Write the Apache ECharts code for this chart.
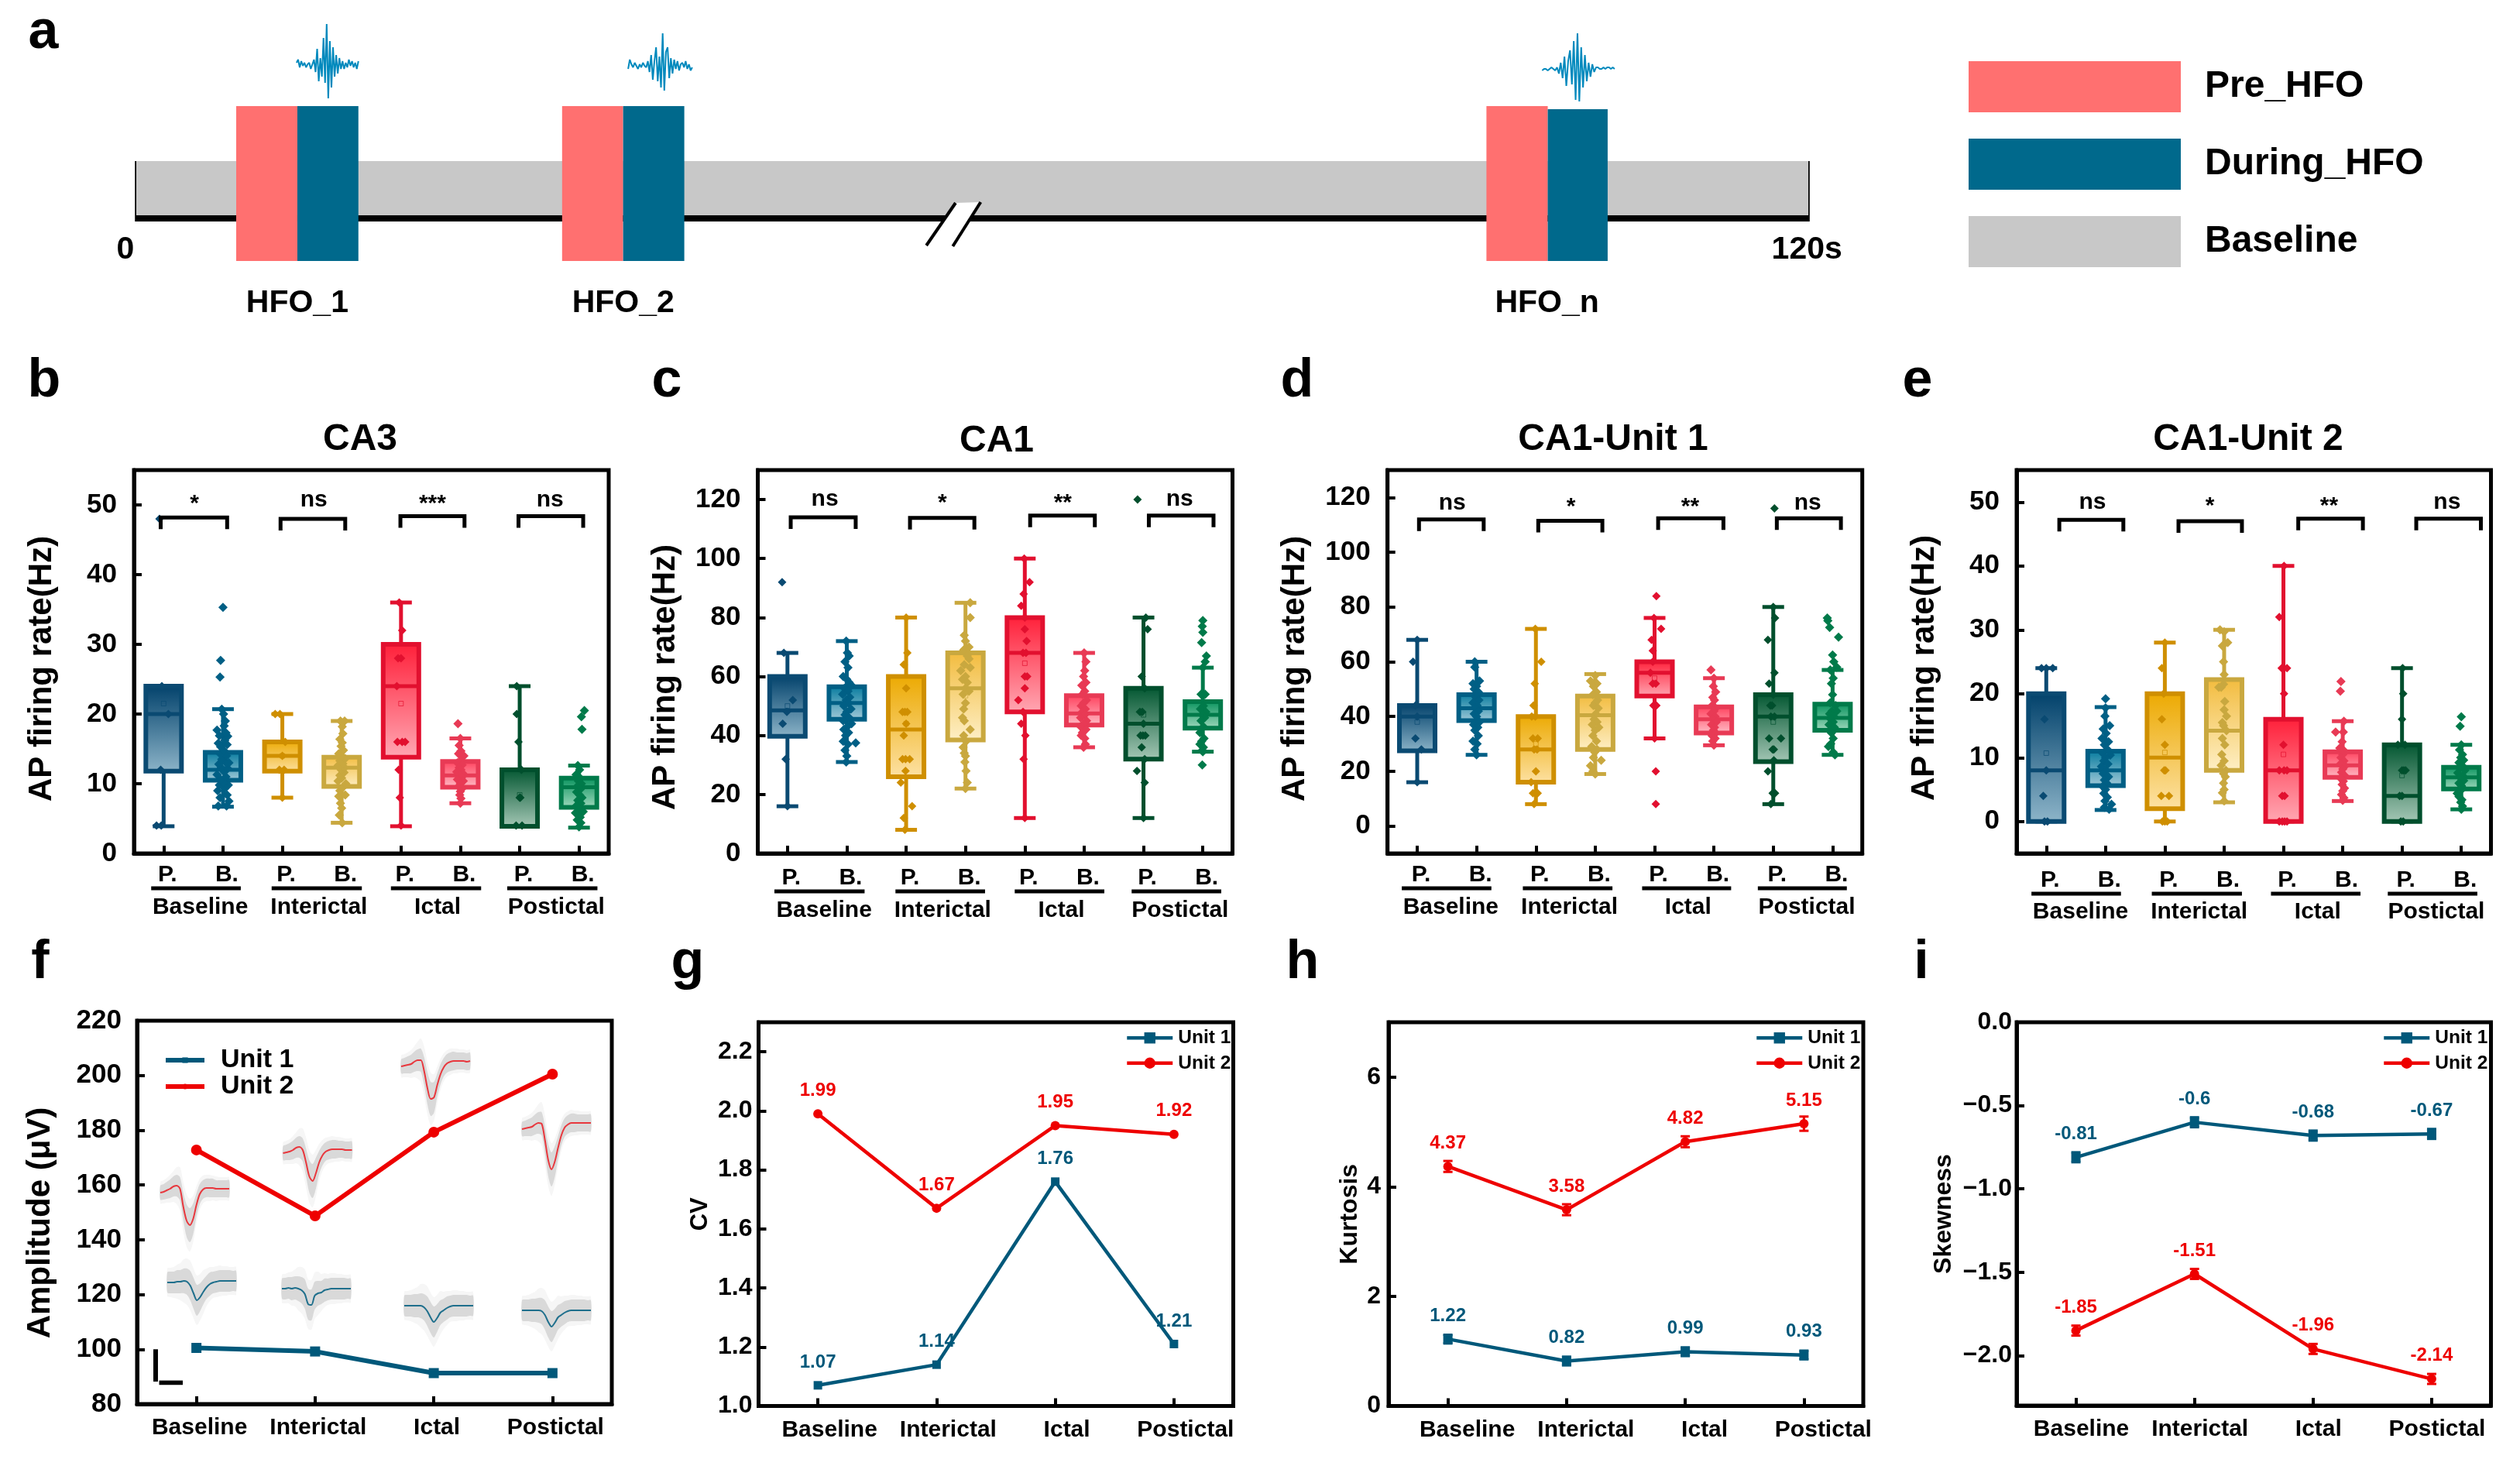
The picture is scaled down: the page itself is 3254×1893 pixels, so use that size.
<!DOCTYPE html>
<html><head><meta charset="utf-8">
<style>html,body{margin:0;padding:0;background:#fff}#c{width:3254px;height:1893px}</style>
<script src="https://cdn.jsdelivr.net/npm/echarts@6/dist/echarts.min.js"></script>
</head><body><div id="c"></div>
<script>
const FONT='"Liberation Sans", Arial, Helvetica, sans-serif';
// ---------- shared labels ----------
const phaseTicks=['P.','B.','P.','B.','P.','B.','P.','B.'];
const stateLabels=['Baseline','Interictal','Ictal','Postictal'];
const boxLine=['#0a4a72','#005f85','#cf8f00','#c9a83f','#e2102f','#e83a55','#004f2d','#007a4a'];
const boxTop=['#00406a','#00789c','#eca900','#f2bb3c','#ff1e38','#ff3b58','#00552f','#008f58'];
const boxBottom=['#8fb6ca','#a9cddb','#fde2a6','#fef0c8','#ffaab5','#ffc2cb','#a8c9b8','#a8dcc2'];
// ---------- panel a ----------
const hfoNames=['HFO_1','HFO_2','HFO_n'];
const hfoPreStart=[7.17,30.56,96.9];
const hfoSplit=[11.56,34.94,101.3];
const hfoEnd=[15.94,39.33,105.6];
const hfoTop=[100,100,98];
const burst1=[1,3,-2,2,-1,1,-2,0,1,-3,0,3,-5,10,-11,4,-8,17,-12,26,-22,15,-15,11,-8,6,-6,4,-3,2,-3,1,-2,3,-1,2,-2,1,-3,2];
const burst2=[-2,4,1,-1,2,0,-2,1,-1,2,0,-1,3,-4,7,-9,3,12,-10,6,-14,21,-16,9,12,-8,5,-5,4,-2,3,-3,1,2,-1,3,-2,1,-3,-1];
const burstN=[-1,0,0,-1,0,1,0,-1,1,-3,4,-6,8,-11,5,12,-10,18,-20,23,-21,14,-12,9,-8,4,-5,3,-2,1,1,0,0,1,0,1,1,0,1,0];
// ---------- CA3 ----------
const ca3Stats=[[3.9,11.8,20,24,24,21.5],[6.7,10.5,12,14.5,20.7,12.7],[8,11.8,14,16,20,14],[4.4,9.6,12.3,13.8,19,12],[3.9,13.8,24,30,36,21.5],[7.2,9.5,11.2,13.2,16.5,11.6],[3.9,3.9,3.9,12,24,8.4],[3.7,6.6,9.5,10.8,12.6,9]];
const ca3Points=[
[[-7,48],[-3,24],[8,20],[-5,12],[-12,4],[-4,4]],
[[-8,6.8],[6,6.8],[10,7.5],[-5,8],[7,8.4],[-9,9],[3,9.3],[-6,9.8],[9,9.8],[1,10.2],[-4,10.6],[5,11],[-10,11.3],[2,11.7],[8,12.2],[-3,12.3],[-7,12.8],[4,13.1],[10,13],[-2,13.5],[6,14],[-5,14.3],[1,14.8],[-4,15.3],[7,15.6],[-8,15.8],[3,16.2],[8,16.8],[-6,16.9],[5,17.3],[-10,17.7],[2,18.3],[4,19],[1,20],[-2,20.7],[0,35.3],[-4,27.7],[-5,25.3]],
[[-12,20],[-4,20],[5,16],[0,14],[-5,12],[3,12],[0,8]],
[[1,4.4],[-4,5.5],[0,6.5],[-2,7.2],[-5,8.2],[6,8.4],[-3,9],[1,9.4],[7,10],[-6,10.4],[0,10.8],[-3,11.2],[4,11.6],[-1,12],[5,12.3],[-6,12.6],[2,12.9],[-3,13.3],[6,13.6],[0,14],[-5,14.3],[3,14.8],[-1,15.4],[1,15.9],[-3,16.4],[2,17.2],[1,18.2],[-2,19],[5,19]],
[[-3,36],[2,32],[-5,28],[0,28],[-7,24],[-6,16],[2,16],[7,16],[-4,12],[-2,8],[0,4]],
[[-4,18.6],[0,16.5],[-2,15.5],[1,14.7],[-3,14.3],[6,14],[0,13.3],[-5,13],[3,12.7],[-2,12.3],[1,12],[-6,11.7],[4,11.5],[-1,11.2],[2,10.9],[-5,10.6],[5,10.4],[0,10],[-3,9.6],[3,9.3],[0,8.9],[-1,8.4],[1,7.9],[0,7.2]],
[[-5,24],[-5,20],[-2,16],[3,12],[1,8],[0,8],[-6,4],[4,4]],
[[9,20.5],[4,19.6],[5,17.8],[-2,12.6],[1,12],[-5,11.3],[2,10.8],[-1,10.4],[4,10],[-3,9.6],[2,9.2],[-4,8.8],[1,8.4],[5,8],[-2,7.6],[3,7.2],[-5,6.8],[0,6.4],[7,6],[-6,5.8],[2,5.2],[-3,4.8],[3,4.4],[0,3.8]]
];
const ca3Sig=['*','ns','***','ns'];
// ---------- CA1 ----------
const ca1Stats=[[16,39.7,48.5,60,68,50],[31,45.5,51,56.5,72,51.5],[8,26,42,60,80,44],[22,38.5,56,68,85,53.5],[12,48,68,80,100,64.5],[36,43.5,47.5,53.5,68,48],[12,32,44,56,80,47],[34.5,42.5,47,51.5,63,47]];
const ca1Points=[
[[-9,92],[-6,68],[9,52],[-1,48],[-8,44],[-3,32],[0,16]],
[[-1,72],[1,68],[4,67],[-3,65],[2,63],[-6,60],[0,59],[4,58],[8,57],[-4,56],[2,55],[-7,54],[5,53],[-1,52],[3,51],[-5,50],[7,49],[0,48],[-3,47],[4,46],[-6,45],[8,44],[1,43],[-5,42],[3,41],[-2,40],[-6,38],[2,37],[15,37.5],[-3,35],[0,33],[-1,31]],
[[0,80],[2,68],[-4,64],[0,56],[-6,48],[-2,48],[2,48],[0,44],[-4,40],[-6,32],[-1,32],[6,32],[-1,28],[-9,24],[10,16],[-4,12],[-2,8]],
[[8,85],[8,80],[-2,74],[0,72],[6,70],[-3,69],[3,67],[6,66],[-2,64],[8,63],[-8,62],[0,60],[-5,59],[3,58],[0,56],[6,55],[-4,54],[0,51],[-3,49],[-5,46],[-2,45],[8,42],[-3,40],[1,38],[-4,36],[-2,34],[0,33],[-1,31],[1,28],[3,24],[0,22]],
[[-1,100],[8,92],[-2,88],[-6,84],[0,80],[0,76],[3,72],[-3,68],[2,68],[0,60],[4,60],[0,56],[-11,52],[-3,48],[-6,44],[1,40],[-2,32],[0,12]],
[[0,68],[3,65],[1,62],[-1,60],[3,58],[-4,57],[1,55],[-3,54],[4,52],[-1,51],[-5,50],[2,49],[-3,48],[1,47],[-6,46],[4,45],[-1,44],[-6,43],[3,42],[-3,41],[-5,40],[1,39],[2,37],[-1,36]],
[[-10,120],[4,80],[7,76],[-3,60],[2,56],[-6,48],[-2,48],[0,44],[-5,40],[-1,40],[3,40],[-3,36],[2,32],[-11,28],[2,24],[0,12]],
[[0,79],[-1,77],[0,75],[-2,71.5],[6,67],[4,65],[0,63],[-3,54],[4,54],[1,50],[-4,49],[5,48],[-1,47],[3,46],[-3,45],[1,43],[-5,41],[2,39],[-2,38],[-5,37],[1,36],[-1,35],[0,34.5],[-1,30]]
];
const ca1Sig=['ns','*','**','ns'];
// ---------- CA1-Unit 1 ----------
const unit1Stats=[[16,27.5,40,44,68,38],[26,38.5,43,48,60,43],[8,16,28,40,72,30],[19,28,40.5,47.5,55.5,38],[32,47.5,56,60,76,54],[29.5,34,39,43.5,54,39],[8,23.5,40,48,80,38],[26,35,39.5,44.5,57,40]];
const unit1Points=[
[[0,68],[-7,60],[-3,44],[0,40],[-3,32],[7,28],[0,16]],
[[-3,60],[-3,58],[5,53],[-6,52],[0,51],[-4,50],[3,49],[-1,47],[4,46],[-6,45],[1,44],[-2,43],[3,42],[-4,41],[0,40],[5,38],[-5,37],[2,36],[-3,35],[3,33],[-6,31],[1,30],[-3,28],[0,26]],
[[-1,72],[9,60],[-2,52],[-4,44],[-7,40],[-1,40],[-5,32],[3,32],[-3,28],[2,28],[0,20],[-8,16],[-5,12],[3,12],[-3,8]],
[[-8,53],[0,55],[3,52],[-3,51],[2,49],[-4,48],[4,46],[0,45],[-3,44],[5,43],[1,41],[-2,39],[3,38],[-5,37],[6,36],[0,35],[-4,33],[2,31],[-6,29],[3,28],[-1,27],[-3,25],[10,24],[-8,22],[-4,20],[0,19]],
[[3,84],[-1,76],[11,72],[-5,68],[-3,64],[-3,60],[-7,56],[-3,52],[2,52],[-2,44],[3,44],[0,32],[2,20],[2,8]],
[[-5,57],[0,54],[-1,51],[3,49],[-2,47],[1,46],[-3,44],[3,43],[0,42],[-5,41],[2,40],[-2,39],[4,38],[-4,37],[1,36],[-1,35],[3,34],[-3,33],[2,32],[-2,31],[0,29.5]],
[[2,116],[0,80],[3,76],[-9,68],[2,56],[-7,52],[0,48],[-5,44],[-2,44],[-4,40],[2,40],[-7,32],[13,32],[-1,28],[1,28],[1,24],[-9,20],[-1,12],[3,12],[-4,8]],
[[-9,76],[-8,75],[-5,72.5],[10,69],[0,62.5],[2,60],[7,58],[-4,57],[1,54],[-2,52],[0,48],[-4,45],[5,44],[-1,42],[7,42],[-5,41],[2,40],[-3,39],[1,38],[-6,37],[3,36],[-2,34],[1,32],[-3,30],[-7,29],[1,27],[4,26]]
];
const unit1Sig=['ns','*','**','ns'];
// ---------- CA1-Unit 2 ----------
const unit2Stats=[[0,0,8,20,24,10.7],[1.8,5.6,8,11,17.9,8.5],[0,2,10,20,28,10.8],[3,8,14.2,22.2,30,15],[0,0,8,16,40,10.5],[3.2,6.9,8.8,10.9,15.7,9],[0,0,4,12,24,7.2],[1.9,5.1,6.9,8.5,12,7]];
const unit2Points=[
[[-8,24],[0,24],[11,24],[-3,16],[0,8],[-5,4],[-3,0],[2,0]],
[[0,19.2],[0,17.8],[-1,16.5],[7,15],[-4,14.5],[1,13.8],[-6,13],[5,12.5],[-2,12],[3,11.3],[-5,10.7],[8,10.4],[0,10],[-3,9.5],[4,9],[-7,8.6],[1,8],[-4,7.5],[5,7],[-2,6.5],[2,6],[-5,5.5],[0,5],[-3,4.4],[3,3.8],[-1,3.2],[10,2.7],[-2,2.2],[6,1.9]],
[[0,28],[-5,24],[-2,20],[-5,16],[0,12],[-1,8],[1,8],[-6,4],[7,4],[-4,0],[0,0],[4,0]],
[[-7,30],[0,29.7],[6,28],[-3,27.5],[-1,25],[0,23],[-1,21.5],[-9,21],[-5,21],[1,18.8],[0,17.5],[4,16.5],[-3,15.5],[-1,15],[4,14.2],[-3,13],[1,12],[-4,10.5],[0,9.5],[-5,8.8],[3,8],[-1,7.5],[2,7],[-1,6],[0,5],[-3,4.5],[0,3.2]],
[[1,40],[-7,32],[-3,24],[6,24],[1,20],[0,12],[-7,8],[1,8],[6,8],[-2,4],[2,4],[-7,0],[-2,0],[2,0],[6,0]],
[[-3,21.9],[-4,20.4],[-12,14],[2,15.7],[1,14],[-1,12.5],[-5,11.5],[3,11],[0,10.5],[-3,10],[2,9.5],[-4,9],[4,8.7],[0,8.2],[-2,7.7],[3,7.2],[-4,6.8],[1,6.3],[-1,5.8],[3,5.2],[0,4.8],[-2,4.2],[2,3.7],[0,3.3]],
[[1,24],[2,20],[0,16],[-7,12],[5,12],[0,8],[3,8],[6,8],[-4,4],[0,4],[-2,0],[2,0]],
[[0,16.4],[-2,14.9],[0,12],[-3,11.2],[2,10.5],[-1,10],[4,9.6],[-4,9.2],[1,8.8],[-2,8.4],[6,8],[-6,7.6],[2,7.2],[-1,6.8],[4,6.4],[-4,6],[0,5.6],[3,5.2],[-7,4.4],[-4,3.9],[1,3.4],[-1,3],[2,2.4],[0,1.9]]
];
const unit2Sig=['ns','*','**','ns'];
// ---------- line panels ----------
const ampUnit1=[100.5,99.2,91.3,91.3];
const ampUnit2=[172.8,148.7,179.3,200.5];
const cvUnit1=[1.07,1.14,1.76,1.21];
const cvUnit2=[1.99,1.67,1.95,1.92];
const kurtUnit1=[1.22,0.82,0.99,0.93];
const kurtUnit2=[4.37,3.58,4.82,5.15];
const kurtErr1=[0.08,0.08,0.08,0.08];
const kurtErr2=[0.1,0.1,0.1,0.13];
const skewUnit1=[-0.81,-0.6,-0.68,-0.67];
const skewUnit2=[-1.85,-1.51,-1.96,-2.14];
const skewErr1=[0.03,0.03,0.03,0.03];
const skewErr2=[0.03,0.03,0.03,0.03];
// mean spike traces (uV relative to trace start) shown as insets of panel f
const traceU2Base=[0,1,3,5,8,9,5,-18,-36,-42,-34,-16,-2,4,6,6,6,5,5,5,5,5];
const traceU2Inter=[0,1,2,4,7,8,4,-12,-30,-36,-26,-12,-3,2,4,5,5,5,5,4,4,4];
const traceU2Ictal=[0,1,2,3,6,8,8,-6,-28,-42,-40,-24,-10,-1,4,6,7,7,7,7,6,7];
const traceU2Post=[0,1,2,3,6,8,7,-14,-40,-52,-42,-24,-8,2,6,8,8,8,8,8,8,8];
const traceU1Base=[0,0,0,1,1,2,1,-4,-14,-23,-19,-12,-6,-2,0,1,2,2,2,2,2,2];
const traceU1Inter=[0,0,1,0,1,0,-2,-7,-20,-21,-9,-6,-5,-2,-1,0,0,0,0,0,0,0];
const traceU1Ictal=[0,0,0,0,0,0,-2,-7,-15,-21,-16,-9,-6,-3,-1,0,0,0,0,0,0,0];
const traceU1Post=[0,0,0,0,0,0,-1,-6,-15,-21,-16,-9,-6,-3,-1,0,0,0,0,0,0,0];
const bandU2Inner=[9,10,11,12,13,14,15,18,21,22,20,15,13,12,12,12,12,11,11,11,11,11];
const bandU2Outer=[14,15,16,18,20,24,28,32,34,34,30,24,20,18,17,17,16,16,15,15,15,15];
const bandU1Inner=[13,14,14,15,15,16,17,19,20,20,18,16,15,15,14,14,14,14,14,14,13,13];
const bandU1Outer=[18,19,20,22,24,28,30,32,32,32,30,28,24,22,20,20,20,19,19,18,18,18];

const chart=echarts.init(document.getElementById('c'));
const option={animation:false,backgroundColor:'#fff',tooltip:{show:false},title:[],legend:[],grid:[],xAxis:[],yAxis:[],series:[]};
const boldText=(size,color)=>({fontFamily:FONT,fontWeight:'bold',fontSize:size,color:color||'#000'});
function addTitle(text,x,y,size){option.title.push({text,left:x,top:y,padding:0,textAlign:'center',textVerticalAlign:'middle',textStyle:boldText(size)});}
function addLetter(text,x,baseline){option.title.push({text,left:x,top:baseline+15,padding:0,textAlign:'center',textVerticalAlign:'bottom',textStyle:boldText(70)});}
function addGrid(left,top,width,height,show){option.grid.push({left,top,width,height,show:!!show,borderColor:'#000',borderWidth:5,backgroundColor:'transparent',containLabel:false,outerBoundsMode:'none'});return option.grid.length-1;}
function addAxis(list,o){list.push(o);return list.length-1;}
function hiddenValue(grid,min,max,pos){return {type:'value',gridIndex:grid,show:false,min,max,position:pos,splitLine:{show:false}};}
function frameLine(){return {show:true,onZero:false,lineStyle:{color:'#000',width:5}};}
function yAxisFor(grid,c){return {type:'value',gridIndex:grid,position:'left',min:c.min,max:c.max,splitLine:{show:false},axisLine:frameLine(),
  axisTick:{show:true,inside:true,length:10,customValues:c.ticks,lineStyle:{color:'#000',width:4}},
  axisLabel:Object.assign({show:true,customValues:c.ticks,margin:c.labelMargin,padding:c.labelPad||0,formatter:c.fmt||(v=>String(v))},boldText(c.labelSize)),
  name:c.name,nameLocation:'middle',nameGap:c.nameGap,nameMoveOverlap:false,nameTextStyle:Object.assign({padding:c.namePad||0},boldText(c.nameSize))};}

// ---------- panel a ----------
(function(){
  const g=addGrid(176,7,2159,330);
  const xi=addAxis(option.xAxis,hiddenValue(g,0,120,'bottom'));
  const yi=addAxis(option.yAxis,hiddenValue(g,0,165,'left'));
  const rects=(name,data,color,z)=>({name,type:'custom',xAxisIndex:xi,yAxisIndex:yi,z,silent:true,clip:false,itemStyle:{color},data,
    renderItem(p,api){const a=api.coord([api.value(0),api.value(3)]),b=api.coord([api.value(1),api.value(2)]);
      return {type:'rect',shape:{x:a[0],y:a[1],width:b[0]-a[0],height:b[1]-a[1]},style:{fill:color}};}});
  option.series.push(rects('Timeline',[[0,120,25.5,29.5],[-0.1,0.05,25.5,64.5],[119.95,120.1,25.5,64.5]],'#000',1));
  option.series.push(rects('Baseline',[[0,120,29.5,64.5]],'#c8c8c8',2));
  option.series.push(rects('Pre_HFO',hfoPreStart.map((s,i)=>[s,hfoSplit[i],0,100]),'#ff7070',3));
  option.series.push(rects('During_HFO',hfoSplit.map((s,i)=>[s,hfoEnd[i],0,hfoTop[i]]),'#00698c',3));
  // axis break mark
  option.series.push({name:'Break',type:'custom',xAxisIndex:xi,yAxisIndex:yi,z:4,silent:true,clip:false,data:[[56.7,10,58.8,37.5,58.6,9.5,60.6,38]],
    renderItem(p,api){const P=i=>api.coord([api.value(i),api.value(i+1)]);const a=P(0),b=P(2),c=P(4),d=P(6);
      return {type:'group',children:[
        {type:'polygon',shape:{points:[a,b,d,c]},style:{fill:'#fff'}},
        {type:'line',shape:{x1:a[0],y1:a[1],x2:b[0],y2:b[1]},style:{stroke:'#000',lineWidth:4}},
        {type:'line',shape:{x1:c[0],y1:c[1],x2:d[0],y2:d[1]},style:{stroke:'#000',lineWidth:4}}]};}});
  // text labels on the time scale
  const axisTexts=[['0',-0.78,7],['120s',119.9,7]].concat(hfoNames.map((n,i)=>[n,(hfoPreStart[i]+hfoEnd[i])/2,-27.5]));
  option.series.push({name:'Time labels',type:'custom',xAxisIndex:xi,yAxisIndex:yi,z:5,silent:true,clip:false,data:axisTexts.map(t=>[t[1],t[2]]),
    renderItem(p,api){const c=api.coord([api.value(0),api.value(1)]);const t=axisTexts[p.dataIndex][0];
      return {type:'text',style:{text:t,x:c[0],y:c[1],align:'center',verticalAlign:'middle',fill:'#000',font:'bold 41px '+FONT}};}});
  [[burst1,11.5,4.44,127],[burst2,35.3,4.6,126],[burstN,100.9,5.2,124]].forEach(([vals,t0,w,mid],k)=>{
    option.series.push({name:'HFO burst '+(k+1),type:'line',xAxisIndex:xi,yAxisIndex:yi,z:6,silent:true,showSymbol:false,
      lineStyle:{color:'#0089bd',width:2},data:vals.map((v,i)=>[t0+w*i/(vals.length-1),mid+v])});
  });
  option.legend.push({left:2542,top:79,orient:'vertical',itemWidth:274,itemHeight:66,itemGap:34,selectedMode:false,padding:0,
    data:[{name:'Pre_HFO',icon:'rect'},{name:'During_HFO',icon:'rect'},{name:'Baseline',icon:'rect'}],
    textStyle:Object.assign({padding:[20,0,0,26]},boldText(48))});
  addLetter('a',56,63);
})();

// ---------- panels b-e ----------
function addBoxPanel(c){
  const g=addGrid(c.left,607,c.width,495,true);
  const xCat=addAxis(option.xAxis,{type:'category',gridIndex:g,position:'bottom',data:phaseTicks,boundaryGap:true,axisLine:frameLine(),
    axisTick:{show:true,inside:true,length:10,alignWithLabel:true,lineStyle:{color:'#000',width:4}},
    axisLabel:Object.assign({interval:0,margin:c.phaseMargin+3,padding:[0,0,0,10]},boldText(30)),splitLine:{show:false}});
  addAxis(option.xAxis,{type:'category',gridIndex:g,position:'bottom',data:stateLabels,boundaryGap:true,axisLine:{show:false,onZero:false},axisTick:{show:false},
    axisLabel:Object.assign({interval:0,margin:c.stateMargin+3,padding:[0,0,0,c.statePad]},boldText(30)),splitLine:{show:false}});
  const xVal=addAxis(option.xAxis,hiddenValue(g,0,8,'bottom'));
  const yi=addAxis(option.yAxis,yAxisFor(g,{min:c.min,max:c.max,ticks:c.ticks,labelMargin:22,labelPad:c.labelPad,labelSize:35,name:'AP firing rate(Hz)',nameGap:98,namePad:c.namePad,nameSize:42}));
  option.series.push({name:c.title+' boxes',type:'custom',xAxisIndex:xCat,yAxisIndex:yi,z:3,silent:true,clip:false,
    encode:{x:0,y:[1,2,3,4,5]},data:c.stats.map((s,i)=>[i].concat(s)),
    renderItem(p,api){const i=api.value(0);const Y=k=>api.coord([i,api.value(k)]);const x=Y(1)[0];
      const yMin=Y(1)[1],q1=Y(2)[1],med=Y(3)[1],q3=Y(4)[1],yMax=Y(5)[1],mean=Y(6)[1];
      const col=boxLine[i];const hb=23,hc=14;const st={stroke:col,lineWidth:5};
      const L=(x1,y1,x2,y2)=>({type:'line',shape:{x1,y1,x2,y2},style:st});
      const ch=[L(x,yMin,x,yMax),L(x-hc,yMin,x+hc,yMin),L(x-hc,yMax,x+hc,yMax),
        {type:'rect',shape:{x:x-hb,y:q3,width:hb*2,height:q1-q3},style:{fill:new echarts.graphic.LinearGradient(0,0,0,1,[{offset:0,color:boxTop[i]},{offset:1,color:boxBottom[i]}]),stroke:col,lineWidth:6}},
        L(x-hb,med,x+hb,med),
        {type:'rect',shape:{x:x-3,y:mean-3,width:6,height:6},style:{fill:'transparent',stroke:col,lineWidth:1,opacity:0.7}}];
      return {type:'group',children:ch};}});
  c.points.forEach((pts,i)=>{
    option.series.push({name:c.title+' points '+(i+1),type:'scatter',xAxisIndex:xVal,yAxisIndex:yi,z:4,silent:true,clip:false,symbol:'diamond',symbolSize:i%2?12:11,
      itemStyle:{color:boxLine[i],opacity:1},data:pts.map(q=>[i+0.5+q[0]/100,q[1]])});
  });
  option.series.push({name:c.title+' significance',type:'custom',xAxisIndex:xVal,yAxisIndex:yi,z:5,silent:true,clip:false,
    data:c.sigFrom.map((f,i)=>[f,c.sigTo[i],c.sigY[i],c.sigLabelX[i],c.sigLabelY]),
    renderItem(p,api){const a=api.coord([api.value(0),api.value(2)]),b=api.coord([api.value(1),api.value(2)]),t=api.coord([api.value(3),api.value(4)]);
      const txt=c.sig[p.dataIndex];const star=txt!=='ns';
      return {type:'group',children:[
        {type:'polyline',shape:{points:[[a[0],a[1]+15],a,b,[b[0],b[1]+15]]},style:{fill:'none',stroke:'#000',lineWidth:5}},
        {type:'text',style:{text:txt,x:t[0],y:t[1]+(star?5:0),align:'center',verticalAlign:'middle',fill:'#000',font:'bold 30px '+FONT}}]};}});
  option.series.push({name:c.title+' group rules',type:'custom',xAxisIndex:xVal,yAxisIndex:yi,z:5,silent:true,clip:false,
    data:c.ruleFrom.map((f,i)=>[f,c.ruleTo[i]]),
    renderItem(p,api){const a=api.coord([api.value(0),c.min]),b=api.coord([api.value(1),c.min]);
      return {type:'line',shape:{x1:a[0],y1:a[1]+c.ruleGap,x2:b[0],y2:a[1]+c.ruleGap},style:{stroke:'#000',lineWidth:5}};}});
  addTitle(c.title,c.titleX,c.titleY+3,48);
  addLetter(c.letter,c.letterX,513);
}
addBoxPanel({title:'CA3',letter:'b',letterX:57,titleX:465,titleY:565,left:173,width:613,min:0,max:55,ticks:[0,10,20,30,40,50],labelPad:[0,0,20,0],namePad:[0,18,0,0],
  stats:ca3Stats,points:ca3Points,sig:ca3Sig,sigFrom:[0.45,2.47,4.49,6.48],sigTo:[1.57,3.56,5.57,7.57],sigY:[48.2,48,48.4,48.4],sigLabelX:[1.02,3.03,5.03,7.01],sigLabelY:50.7,
  ruleFrom:[0.29,2.32,4.33,6.29],ruleTo:[1.80,3.84,5.85,7.81],ruleGap:45,phaseMargin:10,stateMargin:52,statePad:18});
addBoxPanel({title:'CA1',letter:'c',letterX:861,titleX:1287,titleY:567,left:978.5,width:613,min:0,max:130,ticks:[0,20,40,60,80,100,120],namePad:[0,40,0,0],
  stats:ca1Stats,points:ca1Points,sig:ca1Sig,sigFrom:[0.555,2.565,4.59,6.59],sigTo:[1.65,3.65,5.68,7.68],sigY:[114,113.8,114.6,114.6],sigLabelX:[1.13,3.11,5.14,7.11],sigLabelY:120,
  ruleFrom:[0.28,2.32,4.33,6.30],ruleTo:[1.80,3.83,5.84,7.81],ruleGap:49,phaseMargin:14,stateMargin:56,statePad:18});
addBoxPanel({title:'CA1-Unit 1',letter:'d',letterX:1675,titleX:2083,titleY:565,left:1791.7,width:613,min:-10,max:130,ticks:[0,20,40,60,80,100,120],namePad:[0,18,0,0],
  stats:unit1Stats,points:unit1Points,sig:unit1Sig,sigFrom:[0.53,2.54,4.56,6.56],sigTo:[1.62,3.62,5.66,7.64],sigY:[112,111.5,112.4,112.4],sigLabelX:[1.09,3.09,5.10,7.08],sigLabelY:118,
  ruleFrom:[0.24,2.28,4.29,6.24],ruleTo:[1.75,3.79,5.79,7.74],ruleGap:45,phaseMargin:10,stateMargin:52,statePad:10});
addBoxPanel({title:'CA1-Unit 2',letter:'e',letterX:2476,titleX:2903,titleY:565,left:2604,width:612.5,min:-5,max:55,ticks:[0,10,20,30,40,50],namePad:[0,16,0,0],
  stats:unit2Stats,points:unit2Points,sig:unit2Sig,sigFrom:[0.72,2.73,4.75,6.74],sigTo:[1.80,3.80,5.84,7.83],sigY:[47.2,47,47.4,47.4],sigLabelX:[1.28,3.26,5.27,7.26],sigLabelY:49.9,
  ruleFrom:[0.25,2.28,4.29,6.26],ruleTo:[1.76,3.80,5.80,7.77],ruleGap:52,phaseMargin:17,stateMargin:58,statePad:12});

// ---------- panels f-i ----------
const teal='#00587a',red='#ee0000';
function addLinePanel(c){
  const g=addGrid(c.left,c.top,c.width,c.height,true);
  const xi=addAxis(option.xAxis,{type:'category',gridIndex:g,position:'bottom',data:stateLabels,boundaryGap:true,axisLine:frameLine(),
    axisTick:{show:true,inside:true,length:10,alignWithLabel:true,lineStyle:{color:'#000',width:4}},
    axisLabel:Object.assign({interval:0,margin:16,padding:[0,0,0,c.catPad]},boldText(30)),splitLine:{show:false}});
  const yi=addAxis(option.yAxis,yAxisFor(g,{min:c.min,max:c.max,ticks:c.ticks,fmt:c.fmt,labelMargin:c.labelMargin,labelPad:c.labelPad,labelSize:c.labelSize,name:c.name,nameGap:c.nameGap,namePad:c.namePad,nameSize:c.nameSize}));
  [[c.u1,teal,c.sym1,c.size1,c.err1],[c.u2,red,'circle',c.size2,c.err2]].forEach(([vals,col,sym,size,err],k)=>{
    option.series.push({name:'Unit '+(k+1)+' '+c.key,type:'line',xAxisIndex:xi,yAxisIndex:yi,z:6,silent:true,symbol:sym,symbolSize:size,showSymbol:true,clip:false,
      lineStyle:{color:col,width:c.lw},itemStyle:{color:col},
      label:c.showLabels?{show:true,position:'top',distance:12,formatter:p=>String(p.value),fontFamily:FONT,fontWeight:'bold',fontSize:24,color:col}:{show:false},
      data:vals});
    if(err) option.series.push({name:'Unit '+(k+1)+' '+c.key+' error',type:'custom',xAxisIndex:xi,yAxisIndex:yi,z:6,silent:true,clip:false,
      encode:{x:0,y:[1,2]},data:vals.map((v,i)=>[i,v-err[i],v+err[i]]),
      renderItem(p,api){const i=api.value(0);const a=api.coord([i,api.value(1)]),b=api.coord([i,api.value(2)]);const st={stroke:col,lineWidth:3};
        return {type:'group',children:[{type:'line',shape:{x1:a[0],y1:a[1],x2:b[0],y2:b[1]},style:st},
          {type:'line',shape:{x1:a[0]-6,y1:a[1],x2:a[0]+6,y2:a[1]},style:st},{type:'line',shape:{x1:b[0]-6,y1:b[1],x2:b[0]+6,y2:b[1]},style:st}]};}});
  });
  option.legend.push(Object.assign({orient:'vertical',selectedMode:false,padding:0,formatter:n=>n.slice(0,6),
    lineStyle:{width:c.lw},data:['Unit 1 '+c.key,'Unit 2 '+c.key]},c.legend));
  addLetter(c.letter,c.letterX,c.letterBase);
  return {g,xi,yi};
}
const f=addLinePanel({key:'f',letter:'f',letterX:52,letterBase:1264,left:177,top:1318,width:613,height:495,min:80,max:220,ticks:[80,100,120,140,160,180,200,220],labelMargin:20,labelPad:[8,0,0,0],labelSize:35,
  name:'Amplitude (\u03bcV)',nameSize:42,nameGap:104,namePad:[0,27,0,0],catPad:8,u1:ampUnit1,u2:ampUnit2,sym1:'rect',size1:13,size2:14,lw:6,showLabels:false,
  legend:{left:211,top:1352,itemWidth:50,itemHeight:9,itemGap:0,textStyle:Object.assign({lineHeight:32,padding:[0,0,0,16]},boldText(34))}});
const legendSmall=left=>({left,top:1324,itemWidth:59,itemHeight:18,itemGap:0,textStyle:Object.assign({lineHeight:32.5,padding:[0,0,0,2]},boldText(24.5))});
addLinePanel({key:'g',letter:'g',letterX:888,letterBase:1264,left:979.5,top:1320,width:613,height:495.5,min:1,max:2.3,ticks:[1,1.2,1.4,1.6,1.8,2,2.2],fmt:v=>v.toFixed(1),labelMargin:8,labelSize:32,
  name:'CV',nameSize:31,nameGap:60,catPad:30,u1:cvUnit1,u2:cvUnit2,sym1:'rect',size1:11,size2:12,lw:4.5,showLabels:true,legend:legendSmall(1453)});
addLinePanel({key:'h',letter:'h',letterX:1682,letterBase:1264,left:1793,top:1320,width:613,height:495.5,min:0,max:7,ticks:[0,2,4,6],labelMargin:10,labelSize:32,
  name:'Kurtosis',nameSize:32,nameGap:34,catPad:50,u1:kurtUnit1,u2:kurtUnit2,err1:kurtErr1,err2:kurtErr2,sym1:'rect',size1:12,size2:12,lw:4.5,showLabels:true,legend:legendSmall(2266)});
addLinePanel({key:'i',letter:'i',letterX:2481,letterBase:1264,left:2604,top:1320,width:612.5,height:495,min:-2.3,max:0,ticks:[-2,-1.5,-1,-0.5,0],fmt:v=>(v<0?'\u2212':'')+Math.abs(v).toFixed(1),labelMargin:6,labelSize:32,
  name:'Skewness',nameSize:32,nameGap:78,catPad:14,u1:skewUnit1,u2:skewUnit2,err1:skewErr1,err2:skewErr2,sym1:'rect',size1:12,size2:12,lw:4.5,showLabels:true,legend:legendSmall(3076)});

// scale bar of panel f (drawn on a hidden value x axis, amplitude y axis)
const scaleBarX=[0.137,0.176,0.186,0.385];
const scaleBarY=[100,88.2,88.6,87];
(function(){
  const xv=addAxis(option.xAxis,hiddenValue(f.g,0,4,'bottom'));
  option.series.push({name:'Scale bar',type:'custom',xAxisIndex:xv,yAxisIndex:f.yi,z:6,silent:true,clip:false,data:[scaleBarX.concat(scaleBarY)],
    renderItem(p,api){const v=i=>api.value(i);
      const a=api.coord([v(0),v(4)]),b=api.coord([v(1),v(5)]),c=api.coord([v(2),v(6)]),d=api.coord([v(3),v(7)]);
      return {type:'group',children:[
        {type:'rect',shape:{x:a[0],y:a[1],width:b[0]-a[0],height:b[1]-a[1]},style:{fill:'#000'}},
        {type:'rect',shape:{x:c[0],y:c[1],width:d[0]-c[0],height:d[1]-c[1]},style:{fill:'#000'}}]};}});
})();

// spike-waveform insets of panel f
function addInset(left,startY,trace,inner,outer,color,name){
  const g=addGrid(left,startY-50,89,120);
  const xi=addAxis(option.xAxis,hiddenValue(g,0,trace.length-1,'bottom'));
  const yi=addAxis(option.yAxis,hiddenValue(g,-70,50,'left'));
  const poly=(half,fill,z,nm)=>({name:nm,type:'custom',xAxisIndex:xi,yAxisIndex:yi,z,silent:true,clip:false,
    data:trace.map((v,i)=>[i,v,half[i]]),
    renderItem(p,api){ if(p.dataIndex!==0) return null;
      const up=trace.map((v,i)=>api.coord([i,v+half[i]])),lo=trace.map((v,i)=>api.coord([i,v-half[i]])).reverse();
      return {type:'polygon',shape:{points:up.concat(lo),smooth:0.3},style:{fill}};}});
  option.series.push(poly(outer,'#f6f6f6',1,name+' spread'));
  option.series.push(poly(inner,'#d9d9d9',2,name+' core spread'));
  option.series.push({name:name+' mean',type:'line',xAxisIndex:xi,yAxisIndex:yi,z:3,silent:true,showSymbol:false,smooth:0.3,lineStyle:{color,width:2},data:trace.map((v,i)=>[i,v])});
}
addInset(207,1540,traceU2Base,bandU2Inner,bandU2Outer,'#e8373d','U2 baseline');
addInset(365.5,1489,traceU2Inter,bandU2Inner,bandU2Outer,'#e8373d','U2 interictal');
addInset(518,1377,traceU2Ictal,bandU2Inner,bandU2Outer,'#e8373d','U2 ictal');
addInset(674,1458,traceU2Post,bandU2Inner,bandU2Outer,'#e8373d','U2 postictal');
addInset(216,1656,traceU1Base,bandU1Inner,bandU1Outer,'#1f6f8c','U1 baseline');
addInset(364,1664,traceU1Inter,bandU1Inner,bandU1Outer,'#1f6f8c','U1 interictal');
addInset(522,1686,traceU1Ictal,bandU1Inner,bandU1Outer,'#1f6f8c','U1 ictal');
addInset(674,1692,traceU1Post,bandU1Inner,bandU1Outer,'#1f6f8c','U1 postictal');

chart.setOption(option);
</script></body></html>
